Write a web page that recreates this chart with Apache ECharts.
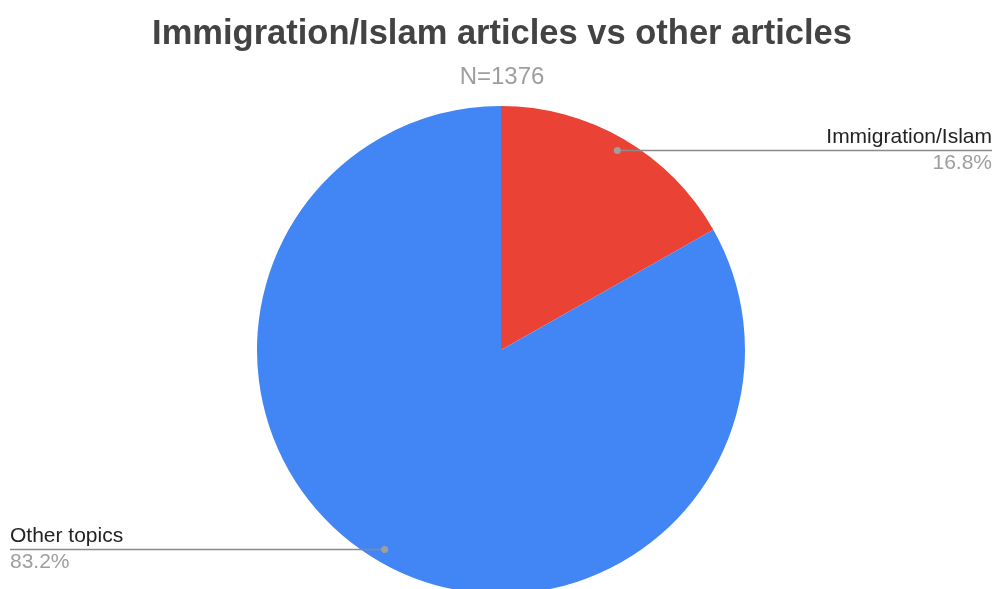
<!DOCTYPE html>
<html>
<head>
<meta charset="utf-8">
<title>Immigration/Islam articles vs other articles</title>
<script src="https://cdn.jsdelivr.net/npm/echarts@6/dist/echarts.min.js"></script>
<style>
  html, body { margin: 0; padding: 0; background: #fff; }
  #chart { width: 996px; height: 589px; }
</style>
</head>
<body>
<div id="chart"></div>
<script>
// Share of articles by topic (percent of all articles)
const categories = ['Immigration/Islam', 'Other topics'];
const shares = [16.8, 83.2];
const totalArticles = 1376;
const sliceColors = ['#EA4335', '#4285F4'];

const FONT = '"Liberation Sans", Arial, Helvetica, sans-serif';
const CENTER = [501, 350];
const RADIUS = 244;
const DOT_RADIUS = 231;

const pieData = categories.map((name, i) => ({
  name: name,
  value: shares[i],
  itemStyle: { color: sliceColors[i] }
}));
const clearData = pieData.map(d => ({ name: d.name, value: d.value, itemStyle: { color: 'rgba(0,0,0,0)' } }));

const chart = echarts.init(document.getElementById('chart'), null, { renderer: 'canvas' });

chart.setOption({
  backgroundColor: '#ffffff',
  animation: false,
  title: [
    {
      text: 'Immigration/Islam articles vs other articles',
      left: 497,
      textAlign: 'center',
      top: 12,
      textStyle: { fontFamily: FONT, fontSize: 34.5, fontWeight: 'bold', color: '#434343' }
    },
    {
      text: 'N=' + totalArticles,
      left: 497,
      textAlign: 'center',
      top: 60,
      textStyle: { fontFamily: FONT, fontSize: 24, fontWeight: 'normal', color: '#9e9e9e' }
    }
  ],
  series: [
    {
      // the slices
      type: 'pie',
      z: 2,
      center: CENTER,
      radius: RADIUS,
      startAngle: 90,
      clockwise: true,
      silent: true,
      data: pieData,
      label: { show: false },
      labelLine: { show: false }
    },
    {
      // transparent overlay carrying the labels and horizontal leader lines
      type: 'pie',
      z: 5,
      center: CENTER,
      radius: DOT_RADIUS,
      startAngle: 90,
      clockwise: true,
      silent: true,
      data: clearData,
      label: {
        show: true,
        position: 'outer',
        formatter: p => '{n|' + p.name + '}\n{p|' + p.value.toFixed(1) + '%}',
        rich: {
          n: { fontFamily: FONT, fontSize: 21, color: '#222222', lineHeight: 26 },
          p: { fontFamily: FONT, fontSize: 21, color: '#9e9e9e', lineHeight: 26 }
        }
      },
      labelLine: {
        show: true,
        lineStyle: { color: '#8a8a8a', width: 1.5 }
      },
      labelLayout: function (params) {
        const start = params.labelLinePoints[0];
        const dx = start[0] - CENTER[0];
        const dy = start[1] - CENTER[1];
        const len = Math.sqrt(dx * dx + dy * dy);
        const sx = CENTER[0] + dx / len * DOT_RADIUS;
        const sy = CENTER[1] + dy / len * DOT_RADIUS;
        const right = dx >= 0;
        const ex = right ? 992 : 10;
        return {
          x: ex,
          y: sy,
          align: right ? 'right' : 'left',
          verticalAlign: 'middle',
          labelLinePoints: [[sx, sy], [sx, sy], [ex, sy]]
        };
      }
    },
    {
      // small round markers where the leader lines begin
      type: 'pie',
      z: 6,
      center: CENTER,
      radius: [DOT_RADIUS - 9, DOT_RADIUS + 3],
      startAngle: 90,
      clockwise: true,
      silent: true,
      data: clearData,
      label: {
        show: true,
        position: 'inside',
        formatter: '{d|}',
        rich: {
          d: { width: 7, height: 7, borderRadius: 3.5, backgroundColor: '#9e9e9e' }
        }
      },
      labelLine: { show: false }
    }
  ]
});
</script>
</body>
</html>
